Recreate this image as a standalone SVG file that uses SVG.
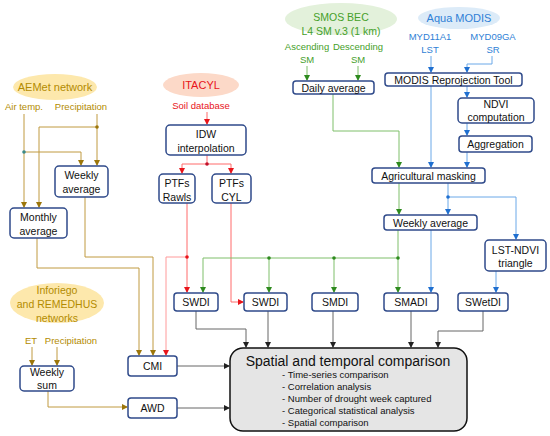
<svg xmlns="http://www.w3.org/2000/svg" width="550" height="436" viewBox="0 0 550 436">
<defs>
<marker id="aG" markerUnits="userSpaceOnUse" markerWidth="6" markerHeight="6" refX="5" refY="3" orient="auto"><path d="M0,0 L6,3 L0,6 Z" fill="#9c760a"/></marker>
<marker id="aR" markerUnits="userSpaceOnUse" markerWidth="6" markerHeight="6" refX="5" refY="3" orient="auto"><path d="M0,0 L6,3 L0,6 Z" fill="#e8141a"/></marker>
<marker id="aN" markerUnits="userSpaceOnUse" markerWidth="6" markerHeight="6" refX="5" refY="3" orient="auto"><path d="M0,0 L6,3 L0,6 Z" fill="#2e8a1e"/></marker>
<marker id="aB" markerUnits="userSpaceOnUse" markerWidth="6" markerHeight="6" refX="5" refY="3" orient="auto"><path d="M0,0 L6,3 L0,6 Z" fill="#1f6fd0"/></marker>
<marker id="aK" markerUnits="userSpaceOnUse" markerWidth="6" markerHeight="6" refX="5" refY="3" orient="auto"><path d="M0,0 L6,3 L0,6 Z" fill="#222"/></marker>
</defs>
<style>
text{font-family:"Liberation Sans",Arial,sans-serif;text-anchor:middle}
.box{fill:#fff;stroke:#2f4a8a;stroke-width:1.5}
.bt{font-size:10.5px;fill:#111}
.lab{font-size:9.5px}
.gold{fill:#b38b00}
.red{fill:#e8141a}
.grn{fill:#45a02a}
.blu{fill:#2f7fd6}
.cg{fill:none;stroke:#c09a40;stroke-width:1;marker-end:url(#aG)}
.cr{fill:none;stroke:#ff6b6b;stroke-width:1;marker-end:url(#aR)}
.cn{fill:none;stroke:#7fbf6a;stroke-width:1;marker-end:url(#aN)}
.cb{fill:none;stroke:#6aa8e8;stroke-width:1;marker-end:url(#aB)}
.ck{fill:none;stroke:#666;stroke-width:1;marker-end:url(#aK)}
.nm{marker-end:none}
.bul{font-size:9.5px;fill:#111;text-anchor:start}
</style>

<g id="connectors">
<!-- gold -->
<path class="cg" d="M24,114 V207"/>
<path class="cg nm" d="M24,152 H81"/>
<path class="cg" d="M81,152 V165"/>
<path class="cg" d="M97,114 V165"/>
<path class="cg" d="M97,127 H39 V207"/>
<path class="cg" d="M37,238 V268 H139 V355"/>
<path class="cg" d="M85,197 V257 H153 V355"/>
<path class="cg" d="M32,347 V365"/>
<path class="cg" d="M57,347 V365"/>
<path class="cg" d="M48,391 V407 H127"/>
<circle cx="24" cy="152" r="1.8" fill="#3a8a8a"/>
<circle cx="97" cy="127" r="1.8" fill="#9c760a"/>
<!-- red -->
<path class="cr" d="M207,112 V124"/>
<path class="cr nm" d="M207,155 V164"/>
<path class="cr" d="M207,164 H182 V173"/>
<path class="cr" d="M207,164 H231 V173"/>
<path class="cr" d="M187,203 V292"/>
<path class="cr" d="M187,257 H166 V355" style="stroke:#ff9a9a"/>
<path class="cr" d="M231,203 V302 H243"/>
<circle cx="207" cy="164" r="1.8" fill="#c0102a"/>
<circle cx="187" cy="257" r="1.8" fill="#e8141a"/>
<!-- green -->
<path class="cn" d="M307,66 V80"/>
<path class="cn" d="M358,66 V80"/>
<path class="cn" d="M333,94 V131 H399 V167"/>
<path class="cn" d="M399,183 V214"/>
<path class="cn" d="M398,230 V292"/>
<path class="cn" d="M398,258 H203 V292"/>
<path class="cn" d="M269,258 V292"/>
<path class="cn" d="M334,258 V292"/>
<circle cx="398" cy="258" r="1.8" fill="#2e8a1e"/>
<circle cx="334" cy="258" r="1.8" fill="#2e8a1e"/>
<circle cx="269" cy="258" r="1.8" fill="#2e8a1e"/>
<!-- blue -->
<path class="cb" d="M431,56 V72"/>
<path class="cb" d="M492,56 V64 H467 V72"/>
<path class="cb" d="M431,86 V167"/>
<path class="cb" d="M467,86 V97"/>
<path class="cb" d="M467,123 V135"/>
<path class="cb" d="M467,152 V167"/>
<path class="cb" d="M448,183 V214"/>
<path class="cb" d="M448,197 H516 V239"/>
<path class="cb" d="M431,230 V292"/>
<path class="cb" d="M496,271 V292"/>
<circle cx="448" cy="197" r="1.8" fill="#1f6fd0"/>
<!-- gray -->
<path class="ck" d="M196,311 V329 H246 V347"/>
<path class="ck" d="M268,311 V347"/>
<path class="ck" d="M333,311 V347"/>
<path class="ck" d="M411,311 V347"/>
<path class="ck" d="M483,311 V331 H438 V347"/>
<path class="ck" d="M177,366 H229"/>
<path class="ck" d="M177,408 H229"/>
</g>

<g id="aemet">
<ellipse cx="55" cy="87" rx="42" ry="13" fill="#fde8ac"/>
<text x="55" y="91" class="gold" font-size="11">AEMet network</text>
<text x="24" y="110" class="lab gold">Air temp.</text>
<text x="81" y="110" class="lab gold">Precipitation</text>
</g>
<g id="weekly-avg-left">
<rect class="box" x="55" y="166" width="53" height="31" rx="4"/>
<text class="bt" x="81.5" y="179">Weekly</text>
<text class="bt" x="81.5" y="193">average</text>
</g>
<g id="monthly-avg">
<rect class="box" x="10" y="208" width="57" height="30" rx="4"/>
<text class="bt" x="38.5" y="221">Monthly</text>
<text class="bt" x="38.5" y="235">average</text>
</g>
<g id="itacyl">
<ellipse cx="201" cy="85" rx="38" ry="12" fill="#fcd9c8"/>
<text x="201" y="89" class="red" font-size="11">ITACYL</text>
<text x="201" y="109" class="lab red">Soil database</text>
</g>
<g id="idw">
<rect class="box" x="166" y="125" width="80" height="30" rx="4"/>
<text class="bt" x="206" y="138">IDW</text>
<text class="bt" x="206" y="152">interpolation</text>
</g>
<g id="ptfs-rawls">
<rect class="box" x="159" y="174" width="36" height="29" rx="4"/>
<text class="bt" x="177" y="187">PTFs</text>
<text class="bt" x="177" y="201">Rawls</text>
</g>
<g id="ptfs-cyl">
<rect class="box" x="212" y="174" width="39" height="29" rx="4"/>
<text class="bt" x="231.5" y="187">PTFs</text>
<text class="bt" x="231.5" y="201">CYL</text>
</g>
<g id="smos">
<ellipse cx="341" cy="19" rx="56" ry="16" fill="#e3f1db"/>
<text x="341" y="21" class="grn" font-size="10.5">SMOS BEC</text>
<text x="341" y="35" class="grn" font-size="10.5">L4 SM v.3 (1 km)</text>
<text x="307" y="50" class="lab grn">Ascending</text>
<text x="307" y="63" class="lab grn">SM</text>
<text x="358" y="50" class="lab grn">Descending</text>
<text x="358" y="63" class="lab grn">SM</text>
</g>
<g id="daily-avg">
<rect class="box" x="293" y="81" width="81" height="13" rx="3"/>
<text class="bt" x="333.5" y="91.5">Daily average</text>
</g>
<g id="modis">
<ellipse cx="459" cy="18" rx="41" ry="11" fill="#dcebf8"/>
<text x="459" y="22" class="blu" font-size="11">Aqua MODIS</text>
<text x="430" y="40" class="lab blu">MYD11A1</text>
<text x="430" y="53" class="lab blu">LST</text>
<text x="493" y="40" class="lab blu">MYD09GA</text>
<text x="493" y="53" class="lab blu">SR</text>
</g>
<g id="mrt">
<rect class="box" x="385" y="73" width="137" height="13" rx="3"/>
<text class="bt" x="453.5" y="83.5">MODIS Reprojection Tool</text>
</g>
<g id="ndvi">
<rect class="box" x="458" y="98" width="76" height="25" rx="4"/>
<text class="bt" x="496" y="108">NDVI</text>
<text class="bt" x="496" y="121">computation</text>
</g>
<g id="aggregation">
<rect class="box" x="459" y="136" width="73" height="16" rx="3"/>
<text class="bt" x="495.5" y="148">Aggregation</text>
</g>
<g id="ag-masking">
<rect class="box" x="372" y="168" width="113" height="15" rx="3"/>
<text class="bt" x="428.5" y="179.5">Agricultural masking</text>
</g>
<g id="weekly-avg-right">
<rect class="box" x="384" y="215" width="93" height="15" rx="3"/>
<text class="bt" x="430.5" y="226.5">Weekly average</text>
</g>
<g id="lst-ndvi">
<rect class="box" x="485" y="240" width="61" height="31" rx="4"/>
<text class="bt" x="515.5" y="253.5">LST-NDVI</text>
<text class="bt" x="515.5" y="267">triangle</text>
</g>
<g id="swdi1">
<rect class="box" x="174" y="293" width="44" height="18" rx="3"/>
<text class="bt" x="196" y="306">SWDI</text>
</g>
<g id="swdi2">
<rect class="box" x="244" y="293" width="43" height="18" rx="3"/>
<text class="bt" x="265.5" y="306">SWDI</text>
</g>
<g id="smdi">
<rect class="box" x="312" y="293" width="46" height="18" rx="3"/>
<text class="bt" x="335" y="306">SMDI</text>
</g>
<g id="smadi">
<rect class="box" x="384" y="293" width="54" height="18" rx="3"/>
<text class="bt" x="411" y="306">SMADI</text>
</g>
<g id="swetdi">
<rect class="box" x="458" y="293" width="50" height="18" rx="3"/>
<text class="bt" x="483" y="306">SWetDI</text>
</g>
<g id="inforiego">
<ellipse cx="57" cy="303" rx="47" ry="20" fill="#fde8ac"/>
<text x="57" y="294" class="gold" font-size="10.5">Inforiego</text>
<text x="57" y="308" class="gold" font-size="10.5">and REMEDHUS</text>
<text x="57" y="322" class="gold" font-size="10.5">networks</text>
<text x="31" y="344" class="lab gold">ET</text>
<text x="71" y="344" class="lab gold">Precipitation</text>
</g>
<g id="weekly-sum">
<rect class="box" x="20" y="366" width="54" height="25" rx="4"/>
<text class="bt" x="47" y="376">Weekly</text>
<text class="bt" x="47" y="389">sum</text>
</g>
<g id="cmi">
<rect class="box" x="128" y="356" width="49" height="20" rx="3"/>
<text class="bt" x="152.5" y="370">CMI</text>
</g>
<g id="awd">
<rect class="box" x="128" y="398" width="49" height="20" rx="3"/>
<text class="bt" x="152.5" y="412">AWD</text>
</g>
<g id="comparison">
<rect x="230" y="348" width="237" height="83" rx="13" fill="#e5e5e5" stroke="#111" stroke-width="1.5"/>
<text x="348" y="366" font-size="14" fill="#111">Spatial and temporal comparison</text>
<text class="bul" x="282" y="377.5">- Time-series comparison</text>
<text class="bul" x="282" y="389.5">- Correlation analysis</text>
<text class="bul" x="282" y="401.5">- Number of drought week captured</text>
<text class="bul" x="282" y="413.5">- Categorical statistical analysis</text>
<text class="bul" x="282" y="425.5">- Spatial comparison</text>
</g>
</svg>
